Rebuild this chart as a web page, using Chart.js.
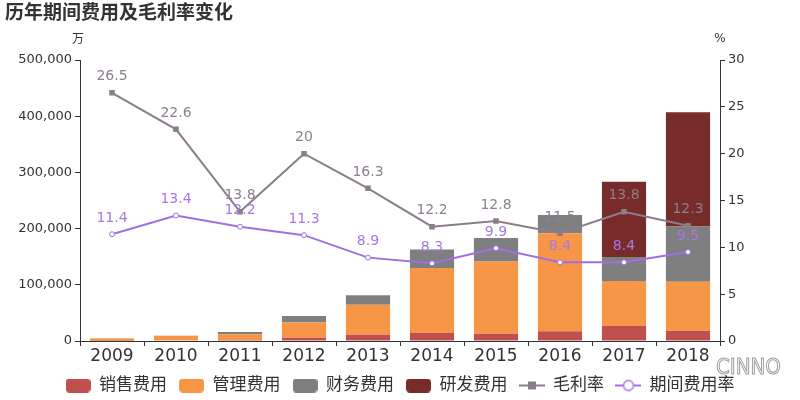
<!DOCTYPE html>
<html>
<head>
<meta charset="utf-8">
<script src="https://cdn.jsdelivr.net/npm/chart.js@4.4.1/dist/chart.umd.min.js"></script>
<style>
  html, body { margin: 0; padding: 0; background: #fff; }
  #wrap { width: 800px; height: 400px; }
</style>
</head>
<body>
<div id="wrap"><canvas id="chart" width="800" height="400"></canvas></div>
<script>
const FONT = "'DejaVu Sans', 'Noto Sans CJK SC', sans-serif";

const years = ["2009", "2010", "2011", "2012", "2013", "2014", "2015", "2016", "2017", "2018"];
const salesCost = [500, 800, 2000, 6000, 11300, 14300, 13000, 17300, 26800, 18400];
const adminCost = [4000, 8000, 10000, 26700, 53000, 115500, 128600, 174300, 79800, 87000];
const financeCost = [500, 700, 4000, 12000, 17300, 33200, 41800, 32800, 42800, 98200];
const rdCost = [0, 0, 0, 0, 0, 0, 0, 0, 134000, 203400];
const grossMargin = [26.5, 22.6, 13.8, 20, 16.3, 12.2, 12.8, 11.5, 13.8, 12.3];
const expenseRate = [11.4, 13.4, 12.2, 11.3, 8.9, 8.3, 9.9, 8.4, 8.4, 9.5];
const leftTicks = [0, 100000, 200000, 300000, 400000, 500000];
const rightTicks = [0, 5, 10, 15, 20, 25, 30];

const C_SALES = "#c0504d";
const C_ADMIN = "#f79646";
const C_FIN = "#7f7f7f";
const C_RD = "#772c2a";
const C_GM = "#8b7d8b";
const C_RATE = "#a06fe2";

// legend symbols as small canvases
function boxIcon(color) {
  const c = document.createElement("canvas");
  c.width = 25; c.height = 14;
  const x = c.getContext("2d");
  x.fillStyle = color;
  x.beginPath();
  x.roundRect(0, 0, 25, 14, 4);
  x.fill();
  return c;
}
function lineIcon(color, marker) {
  const c = document.createElement("canvas");
  c.width = 26; c.height = 14;
  const x = c.getContext("2d");
  x.strokeStyle = color;
  x.lineWidth = 2;
  x.beginPath(); x.moveTo(0, 7); x.lineTo(26, 7); x.stroke();
  if (marker === "square") {
    x.fillStyle = color;
    x.fillRect(9, 3, 8, 8);
  } else {
    x.fillStyle = "#fff";
    x.lineWidth = 1.3;
    x.beginPath(); x.arc(13, 7, 5, 0, Math.PI * 2); x.fill(); x.stroke();
  }
  return c;
}
const icons = [boxIcon(C_SALES), boxIcon(C_ADMIN), boxIcon(C_FIN), boxIcon(C_RD),
  lineIcon(C_GM, "square"), lineIcon(C_RATE, "circle")];

const decorPlugin = {
  id: "decor",
  afterLayout(chart) {
    // nudge legend a little lower than the layout puts it
    if (chart.legend) { chart.legend.top += 4; chart.legend.bottom += 4; }
  },
  afterDatasetsDraw(chart) {
    const ctx = chart.ctx;
    ctx.save();
    ctx.font = "14px " + FONT;
    ctx.textAlign = "center";
    ctx.textBaseline = "middle";
    [[4, "#8c7f8e"], [5, "#a878e2"]].forEach(([idx, col]) => {
      const meta = chart.getDatasetMeta(idx);
      ctx.fillStyle = col;
      meta.data.forEach((pt, i) => {
        ctx.fillText(String(chart.data.datasets[idx].data[i]), pt.x, pt.y - 16);
      });
    });
    ctx.restore();
  },
  afterDraw(chart) {
    const ctx = chart.ctx;
    const a = chart.chartArea;
    ctx.save();
    ctx.fillStyle = "#333";
    ctx.textBaseline = "middle";
    ctx.font = "bold 19px " + FONT;
    ctx.textAlign = "left";
    ctx.fillText("历年期间费用及毛利率变化", 5, 14);
    ctx.font = "12px " + FONT;
    ctx.textAlign = "center";
    ctx.fillText("万", a.left - 2, 40);
    ctx.fillText("%", a.right, 39);
    ctx.font = "22px 'Liberation Sans Narrow', 'DejaVu Sans Condensed', sans-serif";
    ctx.textAlign = "left";
    ctx.fillStyle = "rgba(255,255,255,0.9)";
    ctx.strokeStyle = "#a0a0a0";
    ctx.lineWidth = 1;
    ctx.fillText("CINNO", 716, 368);
    ctx.strokeText("CINNO", 716, 368);
    ctx.restore();
  }
};

const barDs = (label, data, color) => ({
  type: "bar", label, data, backgroundColor: color, yAxisID: "y",
  stack: "cost", order: 2, categoryPercentage: 1, barPercentage: 0.69
});

new Chart(document.getElementById("chart"), {
  data: {
    labels: years,
    datasets: [
      barDs("销售费用", salesCost, C_SALES),
      barDs("管理费用", adminCost, C_ADMIN),
      barDs("财务费用", financeCost, C_FIN),
      barDs("研发费用", rdCost, C_RD),
      {
        type: "line", label: "毛利率", data: grossMargin, yAxisID: "y1", order: 1,
        borderColor: C_GM, backgroundColor: C_GM, borderWidth: 2,
        pointStyle: "rect", pointRadius: 2.5, tension: 0
      },
      {
        type: "line", label: "期间费用率", data: expenseRate, yAxisID: "y1", order: 0,
        borderColor: C_RATE, backgroundColor: "#fff", borderWidth: 2,
        pointStyle: "circle", pointRadius: 2.5, pointBorderWidth: 1, tension: 0
      }
    ]
  },
  options: {
    responsive: false,
    animation: false,
    layout: { padding: { top: 60, left: 0, right: 0, bottom: 0 } },
    scales: {
      x: {
        stacked: true,
        grid: { drawOnChartArea: false, drawTicks: true, tickLength: 5, color: "#333" },
        border: { color: "#333", width: 1 },
        ticks: { color: "#333", font: { family: FONT, size: 17 }, padding: 0 },
        afterFit: (s) => { s.height = 20; }
      },
      y: {
        stacked: true,
        position: "left",
        min: 0, max: 500000,
        afterBuildTicks: (s) => { s.ticks = leftTicks.map((v) => ({ value: v })); },
        grid: { drawOnChartArea: false, tickLength: 5, color: "#333" },
        border: { color: "#333", width: 1 },
        ticks: {
          color: "#333", font: { family: FONT, size: 13 }, padding: 3,
          callback: (v) => v.toLocaleString("en-US")
        },
        afterFit: (s) => { s.width = 80; }
      },
      y1: {
        position: "right",
        min: 0, max: 30,
        afterBuildTicks: (s) => { s.ticks = rightTicks.map((v) => ({ value: v })); },
        grid: { drawOnChartArea: false, tickLength: 5, color: "#333" },
        border: { color: "#333", width: 1 },
        ticks: { color: "#333", font: { family: FONT, size: 13 }, padding: 3 },
        afterFit: (s) => { s.width = 80; }
      }
    },
    plugins: {
      legend: {
        display: true,
        position: "bottom",
        labels: {
          usePointStyle: true,
          pointStyleWidth: 25,
          boxHeight: 14,
          padding: 12,
          color: "#333",
          font: { family: FONT, size: 17 },
          generateLabels: (chart) => {
            const items = Chart.defaults.plugins.legend.labels.generateLabels(chart);
            items.sort((a, b) => a.datasetIndex - b.datasetIndex);
            return items.map((it) => Object.assign(it, { pointStyle: icons[it.datasetIndex], fontColor: "#333" }));
          }
        }
      },
      tooltip: { enabled: false }
    }
  },
  plugins: [decorPlugin]
});
</script>
</body>
</html>
